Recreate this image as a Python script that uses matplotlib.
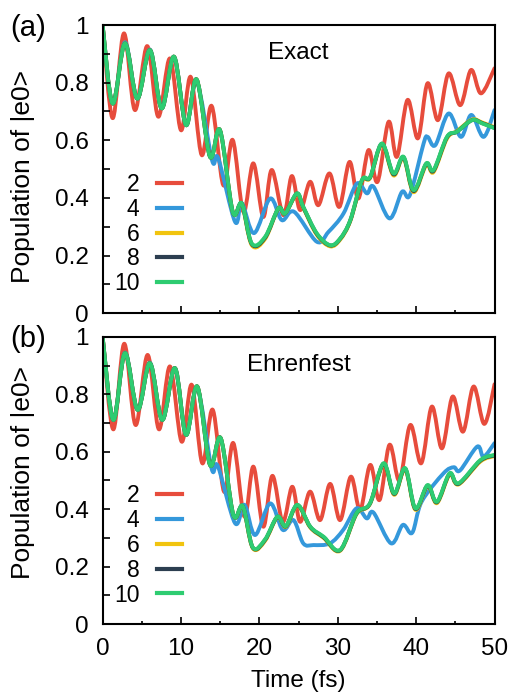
import numpy as np
import matplotlib
matplotlib.use("Agg")
import matplotlib.pyplot as plt
from matplotlib.path import Path
from matplotlib.patches import PathPatch
from matplotlib.lines import Line2D

plt.rcParams["font.family"] = ["Liberation Sans", "DejaVu Sans"]
plt.rcParams["font.size"] = 17.5

labels = ["2", "4", "6", "8", "10"]
colors = ["#e74c3c", "#3498db", "#f1c40f", "#2c3e50", "#2ecc71"]

# ---- panel (a): Exact ----
a_t2 = [0, 1.28, 2.72, 4.12, 5.70, 7.10, 8.60, 10.0, 11.24, 12.64, 13.92, 15.4, 16.6, 17.96,
        19.23, 20.5, 21.58, 23.07, 24.14, 25.2, 26.47, 27.53, 28.94, 30.2, 31.5, 32.64, 33.92,
        35.07, 36.48, 37.55, 38.9, 40.23, 41.46, 42.78, 44.14, 45.63, 47.0, 48.28, 50]
a_v2 = [1.0, 0.677, 0.971, 0.705, 0.927, 0.682, 0.884, 0.635, 0.82, 0.549, 0.719, 0.444, 0.601, 0.352,
        0.52, 0.334, 0.497, 0.34, 0.476, 0.358, 0.456, 0.375, 0.485, 0.369, 0.525, 0.398, 0.566,
        0.456, 0.664, 0.543, 0.74, 0.607, 0.798, 0.670, 0.832, 0.722, 0.844, 0.763, 0.85]

a_t4 = [0, 1.28, 2.85, 4.42, 6.04, 7.54, 9.11, 10.64, 12.0, 13.96, 14.76, 16.9, 17.75, 19.32,
        21.37, 22.86, 24.43, 27.33, 28.81, 30.73, 32.44, 33.72, 34.56, 36.6, 38.19, 39.2, 40.95,
        41.46, 42.44, 44.14, 45.72, 47.04, 48.61, 50]
a_v4 = [1.0, 0.728, 0.94, 0.745, 0.915, 0.711, 0.89, 0.653, 0.805, 0.531, 0.537, 0.317, 0.382, 0.278,
        0.398, 0.323, 0.352, 0.248, 0.282, 0.346, 0.45, 0.416, 0.439, 0.329, 0.421, 0.41, 0.589,
        0.612, 0.583, 0.693, 0.612, 0.688, 0.612, 0.705]

a_t6 = [0, 1.28, 2.85, 4.42, 6.04, 7.54, 9.11, 10.64, 12.0, 13.7, 14.98, 16.6, 17.75, 19.03,
        20.73, 22.43, 23.28, 24.78, 25.6, 27.33, 29.03, 30.3, 31.6, 33.08, 34.14, 35.63, 37.11,
        38.39, 39.67, 41.29, 42.22, 43.93, 45.21, 47.13, 48.4, 50]
a_v6 = [1.0, 0.728, 0.936, 0.745, 0.913, 0.711, 0.89, 0.653, 0.811, 0.543, 0.635, 0.352, 0.378, 0.236,
        0.258, 0.364, 0.346, 0.412, 0.366, 0.272, 0.232, 0.255, 0.32, 0.458, 0.47, 0.585, 0.478,
        0.538, 0.42, 0.514, 0.49, 0.606, 0.632, 0.672, 0.662, 0.645]

a_t8 = a_t6
a_v8 = [1.0, 0.728, 0.936, 0.745, 0.913, 0.711, 0.89, 0.653, 0.811, 0.543, 0.635, 0.352, 0.380, 0.240,
        0.262, 0.364, 0.346, 0.415, 0.368, 0.275, 0.235, 0.258, 0.322, 0.460, 0.472, 0.588, 0.482,
        0.541, 0.424, 0.518, 0.494, 0.610, 0.630, 0.670, 0.660, 0.643]

a_t10 = a_t6
a_v10 = [1.0, 0.728, 0.936, 0.745, 0.913, 0.711, 0.89, 0.653, 0.811, 0.543, 0.635, 0.352, 0.381, 0.242,
         0.265, 0.364, 0.346, 0.416, 0.369, 0.277, 0.236, 0.259, 0.323, 0.462, 0.473, 0.589, 0.485,
         0.543, 0.427, 0.52, 0.497, 0.612, 0.63, 0.67, 0.659, 0.642]

# ---- panel (b): Ehrenfest ----
b_t2 = [0, 1.36, 2.76, 4.21, 5.75, 7.19, 8.6, 10.09, 11.37, 12.72, 14.05, 15.49, 16.68, 18.09,
        19.24, 20.5, 21.66, 22.98, 24.2, 25.2, 26.47, 27.75, 29.03, 30.3, 31.67, 32.86, 34.14,
        35.33, 36.6, 37.88, 39.25, 40.65, 42.0, 43.3, 44.65, 45.98, 47.33, 48.7, 50]
b_v2 = [1.0, 0.678, 0.976, 0.693, 0.937, 0.678, 0.897, 0.635, 0.833, 0.56, 0.746, 0.461, 0.63, 0.374,
        0.548, 0.339, 0.516, 0.356, 0.478, 0.356, 0.461, 0.362, 0.488, 0.362, 0.513, 0.397, 0.554,
        0.432, 0.624, 0.50, 0.693, 0.56, 0.757, 0.612, 0.792, 0.67, 0.827, 0.697, 0.835]

b_t4 = [0, 1.36, 2.85, 4.47, 6.04, 7.61, 9.23, 10.64, 12.08, 13.9, 14.7, 16.9, 18.1, 19.45,
        21.37, 22.98, 24.35, 25.6, 26.9, 29.0, 30.7, 32.4, 33.7, 34.56, 36.8, 38.3, 39.5, 40.7,
        43.5, 44.8, 45.6, 47.8, 48.6, 50]
b_v4 = [1.0, 0.711, 0.945, 0.746, 0.91, 0.711, 0.891, 0.659, 0.822, 0.542, 0.55, 0.351, 0.415, 0.31,
        0.42, 0.328, 0.362, 0.281, 0.275, 0.281, 0.328, 0.403, 0.368, 0.388, 0.281, 0.345, 0.318, 0.426,
        0.525, 0.546, 0.535, 0.618, 0.583, 0.63]

b_t6 = [0, 1.36, 2.85, 4.47, 6.04, 7.61, 9.23, 10.64, 12.08, 13.7, 15.07, 16.68, 17.88, 19.16,
        20.73, 22.3, 23.37, 24.85, 26.5, 28.2, 30.3, 32.4, 34.1, 35.84, 37.2, 38.6, 39.9, 41.46,
        42.65, 44.27, 45.4, 48.2, 50]
b_v6 = [1.0, 0.711, 0.943, 0.746, 0.908, 0.711, 0.891, 0.659, 0.827, 0.554, 0.647, 0.38, 0.408, 0.264,
        0.29, 0.372, 0.338, 0.412, 0.336, 0.30, 0.255, 0.383, 0.418, 0.556, 0.45, 0.538, 0.398, 0.48,
        0.421, 0.52, 0.486, 0.566, 0.585]

b_t8 = b_t6
b_v8 = [1.0, 0.711, 0.943, 0.746, 0.908, 0.711, 0.891, 0.659, 0.827, 0.554, 0.647, 0.38, 0.410, 0.266,
        0.293, 0.373, 0.34, 0.414, 0.338, 0.302, 0.257, 0.385, 0.419, 0.558, 0.453, 0.541, 0.401, 0.482,
        0.424, 0.523, 0.488, 0.569, 0.587]

b_t10 = b_t6
b_v10 = [1.0, 0.711, 0.943, 0.746, 0.908, 0.711, 0.891, 0.659, 0.827, 0.554, 0.647, 0.38, 0.411, 0.267,
         0.295, 0.374, 0.341, 0.415, 0.339, 0.304, 0.258, 0.386, 0.42, 0.56, 0.455, 0.543, 0.403, 0.484,
         0.426, 0.525, 0.49, 0.571, 0.589]

panels = [
    ("(a)", "Exact", [(a_t2, a_v2), (a_t4, a_v4), (a_t6, a_v6), (a_t8, a_v8), (a_t10, a_v10)]),
    ("(b)", "Ehrenfest", [(b_t2, b_v2), (b_t4, b_v4), (b_t6, b_v6), (b_t8, b_v8), (b_t10, b_v10)]),
]


def smooth_path(t, v):
    # smooth curve through the read points (Catmull-Rom drawn as cubic Bezier)
    p = np.column_stack([t, v]).astype(float)
    ext = np.vstack([p[0], p, p[-1]])
    verts = [p[0]]
    codes = [Path.MOVETO]
    for i in range(len(p) - 1):
        p0, p1, p2, p3 = ext[i], ext[i + 1], ext[i + 2], ext[i + 3]
        verts += [p1 + (p2 - p0) / 6, p2 - (p3 - p1) / 6, p2]
        codes += [Path.CURVE4] * 3
    return Path(verts, codes)


fig = plt.figure(figsize=(5.13, 6.96), dpi=100)
boxes = [[0.200, 0.550, 0.764, 0.414], [0.200, 0.1034, 0.764, 0.4126]]
ylab_y = [0.476, 0.526]
tag_y = [0.960, 0.513]

for k, (tag, title, series) in enumerate(panels):
    ax = fig.add_axes(boxes[k])
    for (t, v), c in zip(series, colors):
        ax.add_patch(PathPatch(smooth_path(t, v), fill=False, edgecolor=c, lw=2.8,
                               capstyle="round", joinstyle="round"))
    ax.set_xlim(0, 50)
    ax.set_ylim(0, 1)
    ax.set_xticks(range(0, 51, 10))
    ax.set_xticks(range(5, 50, 10), minor=True)
    ax.set_yticks([0, 0.2, 0.4, 0.6, 0.8, 1])
    ax.set_yticklabels(["0", "0.2", "0.4", "0.6", "0.8", "1"])
    ax.set_yticks([0.1, 0.3, 0.5, 0.7, 0.9], minor=True)
    ax.tick_params(which="both", direction="in", width=1.2, pad=10, labelsize=17.5)
    ax.tick_params(axis="x", which="major", length=5)
    ax.tick_params(axis="x", which="minor", length=2.5)
    ax.tick_params(axis="y", which="both", length=5)
    for s in ax.spines.values():
        s.set_linewidth(1.5)
    ax.set_ylabel("Population of |e0>", fontsize=19)
    ax.yaxis.set_label_coords(-0.173, ylab_y[k])
    if k == 0:
        ax.tick_params(axis="x", labelbottom=False)
    else:
        ax.set_xlabel("Time (fs)", fontsize=17.5, labelpad=7)
    ax.text(0.5, 0.903, title, transform=ax.transAxes, ha="center", va="center", fontsize=17.5)
    handles = [Line2D([], [], color=c, lw=3) for c in colors]
    ax.legend(handles, labels, markerfirst=False, frameon=False, loc="upper right",
              bbox_to_anchor=(0.2025, 0.487), handlelength=1.1, handletextpad=0.75,
              labelspacing=0.08, borderpad=0, borderaxespad=0, fontsize=16.5)
    fig.text(0.055, tag_y[k], tag, ha="center", va="center", fontsize=21)

fig.savefig("out.png", dpi=100)
